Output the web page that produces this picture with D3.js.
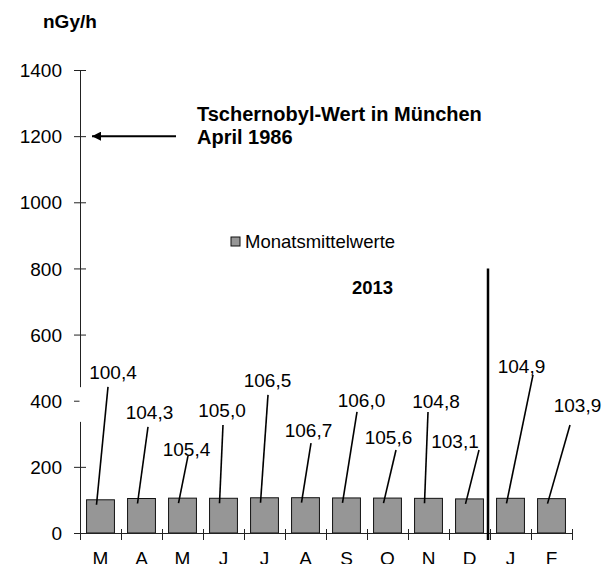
<!DOCTYPE html>
<html>
<head>
    <title>Ortsdosisleistung</title>
    <script src="https://d3js.org/d3.v7.min.js"></script>
    <style>
        body { margin: 0; background: #fff; }
        svg { font-family: "Liberation Sans", Arial, sans-serif; }
        .axis text { font-size: 19px; fill: #000; }
        .axis path, .axis line { stroke: #222; }
    </style>
</head>
<body>
    <svg id="chart" width="605" height="564"></svg>

    <script>
    // Monatsmittelwerte Maerz 2013 - Februar 2014 (nGy/h)
    var months = ["M", "A", "M", "J", "J", "A", "S", "O", "N", "D", "J", "F"];
    var values = [100.4, 104.3, 105.4, 105.0, 106.5, 106.7, 106.0, 105.6, 104.8, 103.1, 104.9, 103.9];
    var yTicks = [0, 200, 400, 600, 800, 1000, 1200, 1400];
    var chernobylValue = 1200;
    var splitValue = 800;

    // where each value label sits: height in nGy/h, shift from bar centre in px
    var labelHeight = [466, 345, 233, 351, 442, 290, 381, 269, 378, 257, 484, 366];
    var labelShift = [12.5, 8, 4, -1.5, 3, 3, 15, 1, 7.5, -14.5, 11, 26];
    // where the leader line meets the label (relative to label centre / baseline)
    var leaderTop = [[-5, 8], [-1.5, 8], [1.5, 0], [1, 8], [0.5, 8], [2.5, 6],
                     [-4.5, 5], [7.5, 6], [-8, 4], [24, 2], [11.5, 2], [-7.5, 13]];

    var plotLeft = 80, plotRight = 572, plotTop = 70, plotBottom = 533;

    var svg = d3.select('#chart');

    var y = d3.scaleLinear()
        .domain([0, 1400])
        .range([plotBottom, plotTop]);

    var x = d3.scaleBand()
        .domain(d3.range(months.length))
        .range([plotLeft, plotRight])
        .padding(0);

    var xEdge = d3.scaleLinear()
        .domain([0, months.length])
        .range([plotLeft, plotRight]);

    var fmt = function(v) { return d3.format('.1f')(v).replace('.', ','); };

    // y axis, ticks crossing the line
    svg.append('g')
        .attr('class', 'axis')
        .attr('transform', `translate(${plotLeft},0)`)
        .call(d3.axisLeft(y).tickValues(yTicks).tickSize(6).tickSizeOuter(0).tickPadding(12).tickFormat(d3.format('d')))
        .call(g => g.selectAll('text').attr('dy', '0.35em'));

    svg.append('g')
        .attr('class', 'axis')
        .attr('transform', `translate(${plotLeft},0)`)
        .call(d3.axisRight(y).tickValues(yTicks).tickSize(6).tickSizeOuter(0).tickFormat(''))
        .call(g => g.select('.domain').remove());

    // bars
    var barW = x.bandwidth() * 0.68;
    svg.append('g')
        .selectAll('rect')
        .data(values)
        .enter()
        .append('rect')
        .attr('x', (d, i) => x(i) + (x.bandwidth() - barW) / 2)
        .attr('y', d => y(d))
        .attr('width', barW)
        .attr('height', d => y(0) - y(d))
        .attr('fill', '#969696')
        .attr('stroke', '#111')
        .attr('stroke-width', 1);

    // x axis: tick marks on the month borders, labels in the middle
    svg.append('g')
        .attr('class', 'axis')
        .attr('transform', `translate(0,${plotBottom})`)
        .call(d3.axisBottom(xEdge).tickValues(d3.range(months.length + 1)).tickSize(7).tickSizeOuter(0).tickFormat(''));

    svg.append('g')
        .attr('class', 'axis')
        .attr('transform', `translate(0,${plotBottom})`)
        .call(d3.axisTop(xEdge).tickValues(d3.range(months.length + 1)).tickSize(4).tickSizeOuter(0).tickFormat(''))
        .call(g => g.select('.domain').remove());

    svg.append('g')
        .attr('class', 'axis')
        .attr('transform', `translate(0,${plotBottom})`)
        .call(d3.axisBottom(x).tickSize(0).tickPadding(19).tickFormat(i => months[i]))
        .call(g => g.select('.domain').remove());

    // odd white gap over the y axis line near 400
    svg.append('rect')
        .attr('x', plotLeft - 0.5)
        .attr('y', y(441))
        .attr('width', 8)
        .attr('height', y(336) - y(441))
        .attr('fill', '#fff');

    // year separator
    svg.append('line')
        .attr('x1', x(10) - 2)
        .attr('x2', x(10) - 2)
        .attr('y1', y(splitValue))
        .attr('y2', plotBottom + 7)
        .attr('stroke', '#000')
        .attr('stroke-width', 2.5);

    // value labels with leader lines
    var cx = i => x(i) + x.bandwidth() / 2;
    var labels = svg.append('g');

    labels.selectAll('line')
        .data(values)
        .enter()
        .append('line')
        .attr('x1', (d, i) => cx(i) - 4)
        .attr('y1', d => y(d) + 5)
        .attr('x2', (d, i) => cx(i) + labelShift[i] + leaderTop[i][0])
        .attr('y2', (d, i) => y(labelHeight[i]) + leaderTop[i][1])
        .attr('stroke', '#000')
        .attr('stroke-width', 1.6);

    labels.selectAll('text')
        .data(values)
        .enter()
        .append('text')
        .attr('x', (d, i) => cx(i) + labelShift[i])
        .attr('y', (d, i) => y(labelHeight[i]))
        .attr('text-anchor', 'middle')
        .attr('font-size', 19)
        .text(d => fmt(d));

    // legend
    svg.append('rect')
        .attr('x', 231)
        .attr('y', 237)
        .attr('width', 9)
        .attr('height', 9)
        .attr('fill', '#969696')
        .attr('stroke', '#111');

    svg.append('text')
        .attr('x', 245)
        .attr('y', 248)
        .attr('font-size', 18.5)
        .text('Monatsmittelwerte');

    svg.append('text')
        .attr('x', 352)
        .attr('y', 294)
        .attr('font-size', 18.5)
        .attr('font-weight', 'bold')
        .text('2013');

    // unit
    svg.append('text')
        .attr('x', 43)
        .attr('y', 28)
        .attr('font-size', 19)
        .attr('font-weight', 'bold')
        .text('nGy/h');

    // Tschernobyl annotation
    svg.append('defs').append('marker')
        .attr('id', 'arrow')
        .attr('viewBox', '0 0 10 10')
        .attr('refX', 10)
        .attr('refY', 5)
        .attr('markerWidth', 5)
        .attr('markerHeight', 4.5)
        .attr('orient', 'auto')
        .append('path')
        .attr('d', 'M0,0 L10,5 L0,10 z')
        .attr('fill', '#000');

    svg.append('line')
        .attr('x1', plotLeft + 96)
        .attr('x2', plotLeft + 12)
        .attr('y1', y(chernobylValue))
        .attr('y2', y(chernobylValue))
        .attr('stroke', '#000')
        .attr('stroke-width', 2)
        .attr('marker-end', 'url(#arrow)');

    var note = svg.append('text')
        .attr('x', 197)
        .attr('y', 121)
        .attr('font-size', 20)
        .attr('font-weight', 'bold');
    note.append('tspan').attr('x', 197).text('Tschernobyl-Wert in München');
    note.append('tspan').attr('x', 197).attr('dy', 23).text('April 1986');
    </script>
</body>
</html>
